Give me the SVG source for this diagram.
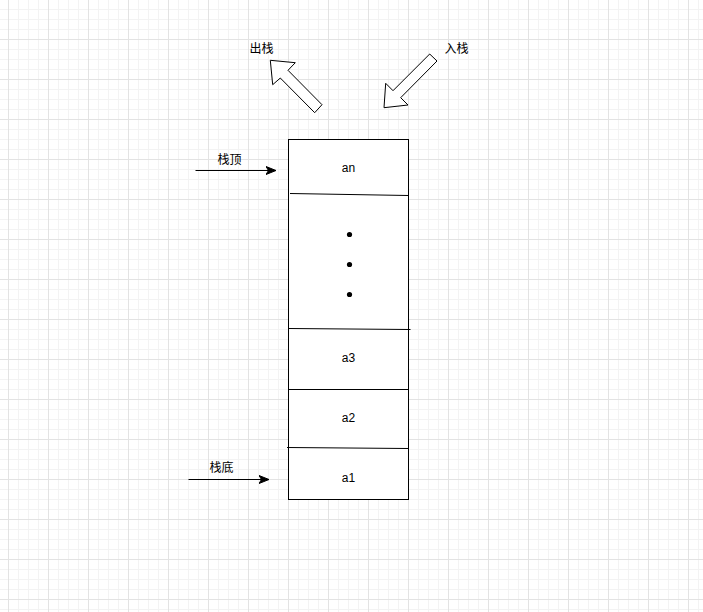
<svg xmlns="http://www.w3.org/2000/svg" width="703" height="612" viewBox="0 0 703 612">
<style>
.lbl{font-family:"Liberation Sans","Noto Sans CJK SC",sans-serif;font-size:12px;fill:#000;text-anchor:middle}
.cell{fill:#fff;stroke:#000;stroke-width:1}
.div{stroke:#000;stroke-width:1;fill:none}
.blk{fill:#fff;stroke:#000;stroke-width:1;stroke-linejoin:miter}
.conn{stroke:#000;stroke-width:1;fill:none}
</style>
<defs>
<pattern id="grid" patternUnits="userSpaceOnUse" x="8" y="-1" width="40" height="40">
<path d="M10.5 0V40M20.5 0V40M30.5 0V40M0 10.5H40M0 20.5H40M0 30.5H40" stroke="#f3f3f3" stroke-width="1"/>
<path d="M0.5 0V40M0 0.5H40" stroke="#e3e3e3" stroke-width="1"/>
</pattern>
<marker id="arr" markerUnits="userSpaceOnUse" markerWidth="12" markerHeight="10" refX="10" refY="5" orient="auto">
<path d="M0 1L10 5L0 9L2.5 5Z" fill="#000" stroke="#000" stroke-width="1"/>
</marker>
</defs>
<rect width="703" height="612" fill="#fff"/>
<rect width="703" height="612" fill="url(#grid)"/>

<g id="stack">
<rect class="cell" x="288.5" y="139.5" width="120" height="360"/>
</g>
<g id="dividers">
<line class="div" x1="290" y1="193.5" x2="408.5" y2="195.5"/>
<line class="div" x1="288.5" y1="328.5" x2="410.5" y2="329.5"/>
<line class="div" x1="288.5" y1="389.5" x2="408.5" y2="389.5"/>
<line class="div" x1="287" y1="447.5" x2="408.5" y2="448.5"/>
</g>
<g id="cell-an"><text class="lbl" x="348.5" y="172">an</text></g>
<g id="cell-dots">
<circle cx="349.5" cy="234.5" r="2.6" fill="#000"/>
<circle cx="349.5" cy="264.5" r="2.6" fill="#000"/>
<circle cx="349.5" cy="294.5" r="2.6" fill="#000"/>
</g>
<g id="cell-a3"><text class="lbl" x="348.5" y="362">a3</text></g>
<g id="cell-a2"><text class="lbl" x="348.5" y="422">a2</text></g>
<g id="cell-a1"><text class="lbl" x="348.5" y="482">a1</text></g>

<g id="pop-arrow">
<polygon class="blk" points="270.3,60.3 295.3,62.7 288,70.3 322,104.7 314.7,112.7 280.3,78 272.7,84.7"/>
</g>
<g id="push-arrow">
<polygon class="blk" points="429.7,54 437,61 400.7,97.7 408,105 384,107.7 385.7,83.3 393,90.7"/>
</g>
<g id="label-pop"><text class="lbl" x="261.5" y="52.5">出栈</text></g>
<g id="label-push"><text class="lbl" x="456.5" y="52.5">入栈</text></g>
<g id="label-top"><text class="lbl" x="229.5" y="163.5">栈顶</text></g>
<g id="label-bottom"><text class="lbl" x="221.5" y="472">栈底</text></g>

<g id="connectors">
<line class="conn" x1="195.5" y1="170.5" x2="276" y2="170.5" marker-end="url(#arr)"/>
<line class="conn" x1="188.5" y1="479.5" x2="269" y2="479.5" marker-end="url(#arr)"/>
</g>
</svg>
